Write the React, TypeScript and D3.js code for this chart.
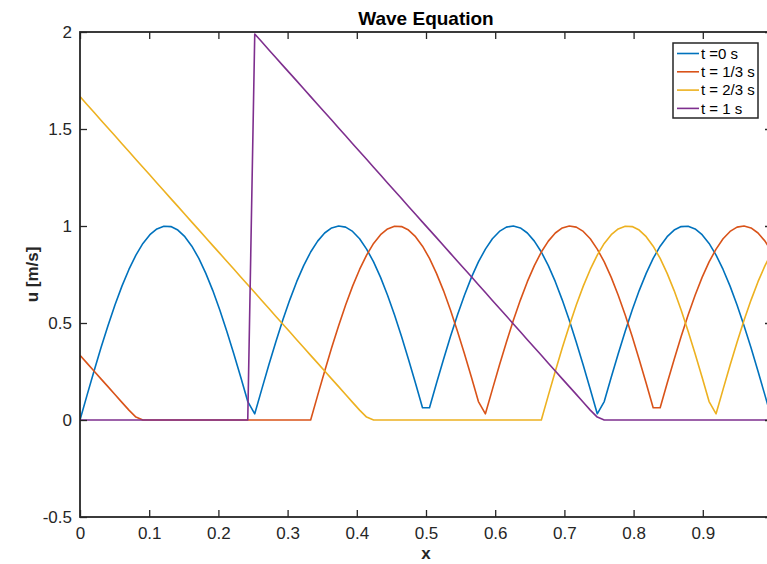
import React, { useEffect, useRef } from "react";
import * as d3 from "d3";

// sampling grid of the solver (100 points on [0, 1])
const N = 100;
const xGrid = d3.range(N).map((i) => i / (N - 1));

// u(x) at each grid point
const uT0 = [
  0, 0.127, 0.251, 0.372, 0.486, 0.593, 0.69, 0.776, 0.85, 0.91,
  0.955, 0.985, 0.999, 0.997, 0.979, 0.945, 0.896, 0.833, 0.756, 0.667,
  0.567, 0.458, 0.342, 0.22, 0.095, 0.032, 0.158, 0.282, 0.401, 0.514,
  0.618, 0.713, 0.796, 0.866, 0.922, 0.964, 0.99, 1, 0.994, 0.972,
  0.934, 0.881, 0.815, 0.735, 0.643, 0.541, 0.43, 0.312, 0.189, 0.063,
  0.063, 0.189, 0.312, 0.43, 0.541, 0.643, 0.735, 0.815, 0.881, 0.934,
  0.972, 0.994, 1, 0.99, 0.964, 0.922, 0.866, 0.796, 0.713, 0.618,
  0.514, 0.401, 0.282, 0.158, 0.032, 0.095, 0.22, 0.342, 0.458, 0.567,
  0.667, 0.756, 0.833, 0.896, 0.945, 0.979, 0.997, 0.999, 0.985, 0.955,
  0.91, 0.85, 0.776, 0.69, 0.593, 0.486, 0.372, 0.251, 0.127, 0,
];
const uT13 = [
  0.333, 0.293, 0.253, 0.212, 0.172, 0.131, 0.091, 0.051, 0.015, 0,
  0, 0, 0, 0, 0, 0, 0, 0, 0, 0,
  0, 0, 0, 0, 0, 0, 0, 0, 0, 0,
  0, 0, 0, 0, 0.127, 0.251, 0.372, 0.486, 0.593, 0.69,
  0.776, 0.85, 0.91, 0.955, 0.985, 0.999, 0.997, 0.979, 0.945, 0.896,
  0.833, 0.756, 0.667, 0.567, 0.458, 0.342, 0.22, 0.095, 0.032, 0.158,
  0.282, 0.401, 0.514, 0.618, 0.713, 0.796, 0.866, 0.922, 0.964, 0.99,
  1, 0.994, 0.972, 0.934, 0.881, 0.815, 0.735, 0.643, 0.541, 0.43,
  0.312, 0.189, 0.063, 0.063, 0.189, 0.312, 0.43, 0.541, 0.643, 0.735,
  0.815, 0.881, 0.934, 0.972, 0.994, 1, 0.99, 0.964, 0.922, 0.866,
];
const uT23 = [
  1.667, 1.626, 1.586, 1.545, 1.505, 1.465, 1.424, 1.384, 1.343, 1.303,
  1.263, 1.222, 1.182, 1.141, 1.101, 1.061, 1.02, 0.98, 0.939, 0.899,
  0.859, 0.818, 0.778, 0.737, 0.697, 0.657, 0.616, 0.576, 0.535, 0.495,
  0.455, 0.414, 0.374, 0.333, 0.293, 0.253, 0.212, 0.172, 0.131, 0.091,
  0.051, 0.015, 0, 0, 0, 0, 0, 0, 0, 0,
  0, 0, 0, 0, 0, 0, 0, 0, 0, 0,
  0, 0, 0, 0, 0, 0, 0, 0.127, 0.251, 0.372,
  0.486, 0.593, 0.69, 0.776, 0.85, 0.91, 0.955, 0.985, 0.999, 0.997,
  0.979, 0.945, 0.896, 0.833, 0.756, 0.667, 0.567, 0.458, 0.342, 0.22,
  0.095, 0.032, 0.158, 0.282, 0.401, 0.514, 0.618, 0.713, 0.796, 0.866,
];
const uT1 = [
  0, 0, 0, 0, 0, 0, 0, 0, 0, 0,
  0, 0, 0, 0, 0, 0, 0, 0, 0, 0,
  0, 0, 0, 0, 0, 1.99, 1.95, 1.909, 1.869, 1.828,
  1.788, 1.748, 1.707, 1.667, 1.626, 1.586, 1.546, 1.505, 1.465, 1.424,
  1.384, 1.344, 1.303, 1.263, 1.222, 1.182, 1.142, 1.101, 1.061, 1.02,
  0.98, 0.94, 0.899, 0.859, 0.818, 0.778, 0.738, 0.697, 0.657, 0.616,
  0.576, 0.536, 0.495, 0.455, 0.414, 0.374, 0.334, 0.293, 0.253, 0.212,
  0.172, 0.132, 0.091, 0.051, 0.015, 0, 0, 0, 0, 0,
  0, 0, 0, 0, 0, 0, 0, 0, 0, 0,
  0, 0, 0, 0, 0, 0, 0, 0, 0, 0,
];

const seriesNames = ["t =0 s", "t = 1/3 s", "t = 2/3 s", "t = 1 s"];
const seriesColors = ["#0072BD", "#D95319", "#EDB120", "#7E2F8E"];
const xTicks = [0, 0.1, 0.2, 0.3, 0.4, 0.5, 0.6, 0.7, 0.8, 0.9, 1];
const yTicks = [-0.5, 0, 0.5, 1, 1.5, 2];

const width = 767;
const height = 564;
const font = "'Liberation Sans', Arial, Helvetica, sans-serif";
const ink = "#262626";

export default function App() {
  const ref = useRef<SVGSVGElement>(null);

  useEffect(() => {
    const svg = d3.select(ref.current);
    svg.selectAll("*").remove();

    const margin = { top: 32, right: -5, bottom: 47, left: 80 };
    const x = d3.scaleLinear().domain([0, 1]).range([margin.left, width - margin.right]);
    const y = d3.scaleLinear().domain([-0.5, 2]).range([height - margin.bottom, margin.top]);
    const [x0, x1] = x.range();
    const [y0, y1] = y.range();

    svg.append("rect").attr("width", width).attr("height", height).attr("fill", "#fff");

    svg.append("defs").append("clipPath").attr("id", "plot-area")
      .append("rect")
      .attr("x", x0).attr("y", y1)
      .attr("width", x1 - x0).attr("height", y0 - y1);

    const line = d3.line<number>()
      .x((d, i) => x(xGrid[i]))
      .y((d) => y(d));

    const plot = svg.append("g").attr("clip-path", "url(#plot-area)");
    [uT0, uT13, uT23, uT1].forEach((s, i) => {
      plot.append("path")
        .datum(s)
        .attr("d", line)
        .attr("fill", "none")
        .attr("stroke", seriesColors[i])
        .attr("stroke-width", 1.6)
        .attr("stroke-linejoin", "round");
    });

    const styleAxis = (g) => {
      g.select(".domain").remove();
      g.selectAll(".tick line").attr("stroke", ink).attr("stroke-width", 1.3);
      g.selectAll("text").attr("fill", ink).attr("font-size", 17).attr("font-family", font);
    };
    // the label of x = 1 falls past the right edge of the picture, so it is left blank
    const fmtX = (d) => (d === 1 ? "" : String(d));
    const fmtY = (d) => String(d);

    svg.append("g")
      .attr("transform", `translate(0,${y0})`)
      .call(d3.axisBottom(x).tickValues(xTicks).tickSize(-7).tickPadding(10).tickFormat(fmtX))
      .call(styleAxis);
    svg.append("g")
      .attr("transform", `translate(0,${y1})`)
      .call(d3.axisTop(x).tickValues(xTicks).tickSize(-7).tickFormat(() => ""))
      .call(styleAxis);
    svg.append("g")
      .attr("transform", `translate(${x0},0)`)
      .call(d3.axisLeft(y).tickValues(yTicks).tickSize(-7).tickPadding(8).tickFormat(fmtY))
      .call(styleAxis);
    svg.append("g")
      .attr("transform", `translate(${x1},0)`)
      .call(d3.axisRight(y).tickValues(yTicks).tickSize(-7).tickFormat(() => ""))
      .call(styleAxis);

    svg.append("rect")
      .attr("x", x0).attr("y", y1)
      .attr("width", x1 - x0).attr("height", y0 - y1)
      .attr("fill", "none")
      .attr("stroke", ink)
      .attr("stroke-width", 1.8);

    const mid = (x0 + x1) / 2;
    svg.append("text")
      .attr("x", mid).attr("y", 25)
      .attr("text-anchor", "middle")
      .attr("font-family", font).attr("font-weight", "bold").attr("font-size", 19)
      .attr("fill", "#000")
      .text("Wave Equation");
    svg.append("text")
      .attr("x", mid).attr("y", 559)
      .attr("text-anchor", "middle")
      .attr("font-family", font).attr("font-weight", "bold").attr("font-size", 17)
      .attr("fill", ink)
      .text("x");
    svg.append("text")
      .attr("transform", `translate(38,${(y0 + y1) / 2}) rotate(-90)`)
      .attr("text-anchor", "middle")
      .attr("font-family", font).attr("font-weight", "bold").attr("font-size", 17)
      .attr("fill", ink)
      .text("u [m/s]");

    // legend, top right inside the axes
    const legend = svg.append("g").attr("transform", "translate(673,43)");
    legend.append("rect")
      .attr("width", 85).attr("height", 75)
      .attr("fill", "#fff")
      .attr("stroke", ink)
      .attr("stroke-width", 1.5);
    seriesNames.forEach((name, i) => {
      const row = legend.append("g").attr("transform", `translate(0,${10.5 + i * 18.3})`);
      row.append("line")
        .attr("x1", 4).attr("x2", 26)
        .attr("stroke", seriesColors[i])
        .attr("stroke-width", 1.6);
      row.append("text")
        .attr("x", 28).attr("dy", "0.35em")
        .attr("font-family", font).attr("font-size", 15)
        .attr("fill", "#000")
        .text(name);
    });
  }, []);

  return (
    <svg
      ref={ref}
      width={width}
      height={height}
      style={{ position: "absolute", left: 0, top: 0, display: "block" }}
    />
  );
}
